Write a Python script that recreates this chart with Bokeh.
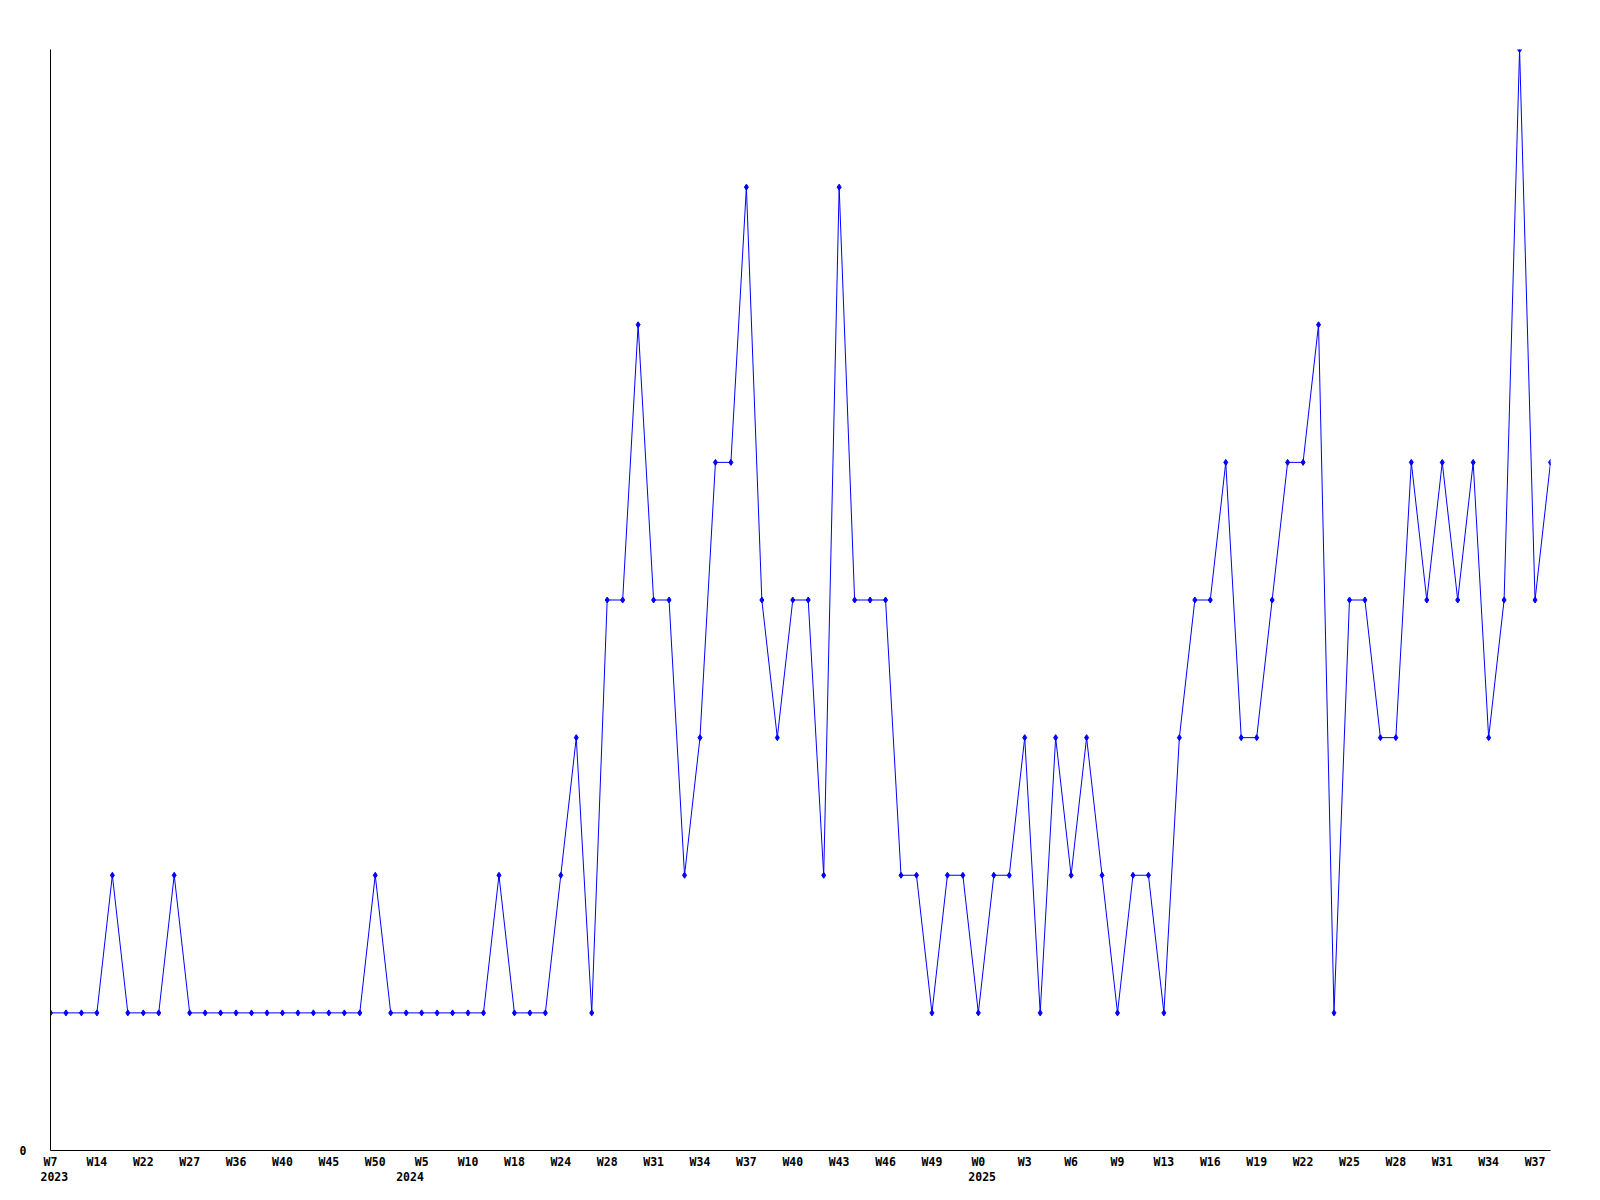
from bokeh.plotting import figure
from bokeh.models import Range1d, FixedTicker, LinearAxis
from bokeh.embed import file_html
from bokeh.resources import INLINE

# ---- data -------------------------------------------------------------
values = [1, 1, 1, 1, 2, 1, 1, 1, 2, 1,
          1, 1, 1, 1, 1, 1, 1, 1, 1, 1,
          1, 2, 1, 1, 1, 1, 1, 1, 1, 2,
          1, 1, 1, 2, 3, 1, 4, 4, 6, 4,
          4, 2, 3, 5, 5, 7, 4, 3, 4, 4,
          2, 7, 4, 4, 4, 2, 2, 1, 2, 2,
          1, 2, 2, 3, 1, 3, 2, 3, 2, 1,
          2, 2, 1, 3, 4, 4, 5, 3, 3, 4,
          5, 5, 6, 1, 4, 4, 3, 3, 5, 4,
          5, 4, 5, 3, 4, 8, 4, 5]
x_index = list(range(len(values)))

tick_positions = [0, 3, 6, 9, 12, 15, 18, 21, 24, 27, 30, 33, 36, 39, 42, 45,
                  48, 51, 54, 57, 60, 63, 66, 69, 72, 75, 78, 81, 84, 87, 90, 93, 96]
tick_labels = ["W7", "W14", "W22", "W27", "W36", "W40", "W45", "W50", "W5", "W10",
               "W18", "W24", "W28", "W31", "W34", "W37", "W40", "W43", "W46", "W49",
               "W0", "W3", "W6", "W9", "W13", "W16", "W19", "W22", "W25", "W28",
               "W31", "W34", "W37"]
year_positions = [0, 23, 60]
year_labels = ["2023", "2024", "2025"]
y_ticks = [0]
y_tick_labels = ["0"]

# ---- style ------------------------------------------------------------
FONT = "DejaVu Sans Mono"
FSIZE = "11.5px"
BLUE = "#0000FF"
YEAR_SHIFT = 0.25

p = figure(width=1600, height=1200, output_backend="svg", toolbar_location=None,
           x_range=Range1d(0, len(values) - 1), y_range=Range1d(0, 8),
           min_border_left=50, min_border_right=50, min_border_top=49,
           min_border_bottom=50)
p.outline_line_color = None
p.background_fill_color = "white"
p.border_fill_color = "white"
p.xgrid.visible = False
p.ygrid.visible = False

p.line(x_index, values, line_color=BLUE, line_width=1)
p.scatter(x_index, values, marker="diamond", size=6, color=BLUE)

xa = p.xaxis[0]
xa.ticker = FixedTicker(ticks=tick_positions)
xa.major_label_overrides = {t: l for t, l in zip(tick_positions, tick_labels)}
xa.axis_line_color = "black"
xa.axis_line_width = 1
xa.major_tick_line_color = None
xa.minor_tick_line_color = None
xa.major_tick_out = 0
xa.major_tick_in = 0
xa.major_label_standoff = 4
xa.major_label_text_font = FONT
xa.major_label_text_font_style = "bold"
xa.major_label_text_font_size = FSIZE
xa.major_label_text_color = "black"

yr_pos = [y + YEAR_SHIFT for y in year_positions]
ya2 = LinearAxis(ticker=FixedTicker(ticks=yr_pos),
                 major_label_overrides={t: l for t, l in zip(yr_pos, year_labels)})
ya2.axis_line_color = None
ya2.major_tick_line_color = None
ya2.minor_tick_line_color = None
ya2.major_tick_out = 0
ya2.major_tick_in = 0
ya2.major_label_standoff = 0
ya2.major_label_text_font = FONT
ya2.major_label_text_font_style = "bold"
ya2.major_label_text_font_size = FSIZE
ya2.major_label_text_color = "black"
p.add_layout(ya2, "below")

yax = p.yaxis[0]
yax.ticker = FixedTicker(ticks=y_ticks)
yax.major_label_overrides = {t: l for t, l in zip(y_ticks, y_tick_labels)}
yax.axis_line_color = "black"
yax.major_tick_line_color = None
yax.minor_tick_line_color = None
yax.major_tick_out = 0
yax.major_tick_in = 0
yax.major_label_standoff = 24
yax.major_label_text_font = FONT
yax.major_label_text_font_style = "bold"
yax.major_label_text_font_size = FSIZE
yax.major_label_text_color = "black"

open("out.html", "w").write(file_html(p, INLINE))
